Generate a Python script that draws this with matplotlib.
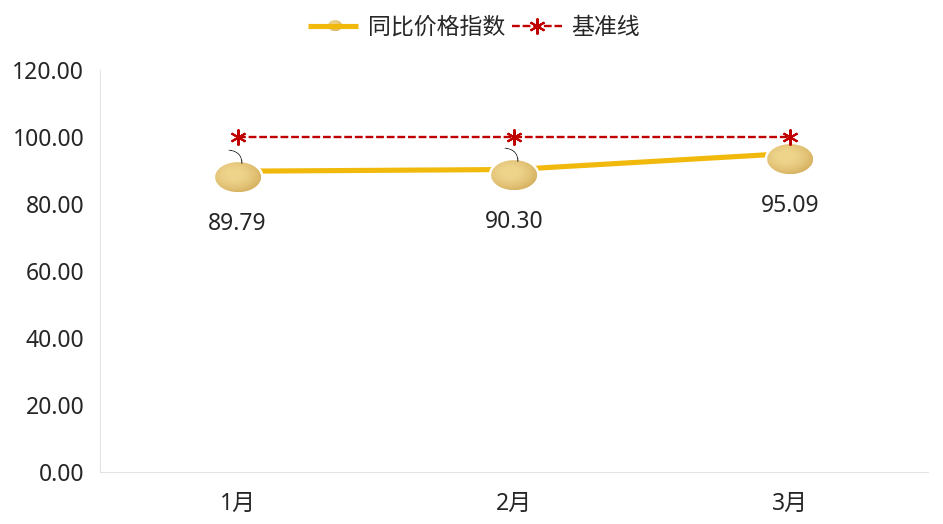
import numpy as np
import matplotlib
matplotlib.use("Agg")
import matplotlib.pyplot as plt
from matplotlib.offsetbox import OffsetImage, AnnotationBbox

plt.rcParams['font.family'] = ['Noto Sans', 'Noto Sans CJK SC', 'DejaVu Sans']

months = ["1月", "2月", "3月"]
price_index = [89.79, 90.30, 95.09]
baseline = [100, 100, 100]
y_ticks = [0, 20, 40, 60, 80, 100, 120]

W, H = 943, 524
TEXT = "#262626"
YELLOW = "#F0B90B"
RED = "#C00000"
FS = 16.5


# pear picture, drawn pixel by pixel so it has a soft shading and a white rim
def make_pear(w, h, stem=True, ss=4):
    pad = 3
    stem_h = int(h * 0.45) if stem else 0
    nx, ny = (w + 2 * pad) * ss, (h + 2 * pad + stem_h) * ss
    yy, xx = np.mgrid[0:ny, 0:nx]
    xx = xx / ss - pad - w / 2
    yy = yy / ss - pad - stem_h - h / 2
    r = np.sqrt((xx / (w / 2)) ** 2 + (yy / (h / 2)) ** 2)

    light = np.array([238, 212, 140]) / 255
    dark = np.array([208, 168, 85]) / 255
    t = np.clip(0.55 * r ** 2 + 0.4 * (xx / w + yy / h), 0, 1)[..., None]
    img = np.ones((ny, nx, 4))
    img[..., :3] = light * (1 - t) + dark * t

    # white rim, clear outside
    rim = np.sqrt((xx / (w / 2 + 2.5)) ** 2 + (yy / (h / 2 + 2.5)) ** 2)
    img[r > 1, :3] = 1
    img[rim > 1, 3] = 0

    if stem:
        s = np.linspace(0, 1, 60)
        sx = (1 - s) ** 2 * (-w * 0.2) + 2 * s * (1 - s) * (w * 0.08) + s ** 2 * (w * 0.08)
        sy = (1 - s) ** 2 * (-h / 2 - h * 0.4) + 2 * s * (1 - s) * (-h / 2 - h * 0.35) + s ** 2 * (-h / 2 + 1)
        for a, b in zip(sx, sy):
            d = np.hypot(xx - a, yy - b) < 0.6
            img[d, :3] = 0.2
            img[d, 3] = 1

    # reduce the oversampled picture
    ny2, nx2 = ny // ss, nx // ss
    return img.reshape(ny2, ss, nx2, ss, 4).mean(axis=(1, 3))


fig = plt.figure(figsize=(W / 100, H / 100), dpi=100)
ax = fig.add_axes([99.5 / W, 1 - 472 / H, 828.5 / W, 402 / H])

x = np.arange(len(months))
line1, = ax.plot(x, price_index, color=YELLOW, lw=3.7, solid_capstyle="butt", zorder=2,
                 label="同比价格指数")
line2, = ax.plot(x, baseline, color=RED, lw=1.7, ls=(0, (3.3, 1.2)), marker=(6, 2, 0), ms=11.5,
                 mew=1.5, zorder=4, label="基准线")

ax.set_xlim(-0.5, 2.5)
ax.set_ylim(0, 120)
ax.set_xticks(x)
ax.set_xticklabels(months)
ax.set_yticks(y_ticks)
ax.set_yticklabels([f"{v:.2f}" for v in y_ticks])
ax.tick_params(length=0, labelsize=FS, labelcolor=TEXT)
ax.tick_params(axis="x", pad=14.5)
ax.tick_params(axis="y", pad=11)
for side in ["top", "right"]:
    ax.spines[side].set_visible(False)
for side in ["left", "bottom"]:
    ax.spines[side].set_color("#E3E3E3")
    ax.spines[side].set_linewidth(0.8)

for i, v in enumerate(price_index):
    has_stem = i < 2
    stem_h = 13 if has_stem else 0
    # OffsetImage scales by dpi/72, so 0.72 keeps one image pixel per figure pixel
    pear = OffsetImage(make_pear(46, 30, stem=has_stem), zoom=0.72)
    ab = AnnotationBbox(pear, (i, v), xybox=(0, -6 + stem_h / 2), boxcoords="offset pixels",
                        frameon=False, pad=0, zorder=3)
    ax.add_artist(ab)
    ax.annotate(f"{v:.2f}", (i, v), xytext=(0, -53), textcoords="offset pixels",
                ha="center", va="center", fontsize=FS, color=TEXT, zorder=5)

leg = fig.legend(handles=[line1, line2], loc="center", bbox_to_anchor=(474 / W, 1 - 28 / H),
                 ncol=2, frameon=False, fontsize=FS, labelcolor=TEXT, handlelength=2.2,
                 handletextpad=0.42, columnspacing=0.28, borderpad=0)

# small pear on top of the legend line
small = OffsetImage(make_pear(14, 11, stem=False), zoom=0.72)
fig.add_artist(AnnotationBbox(small, (335 / W, 1 - 26 / H), xycoords="figure fraction",
                              frameon=False, pad=0))

fig.savefig("out.png", dpi=100)
